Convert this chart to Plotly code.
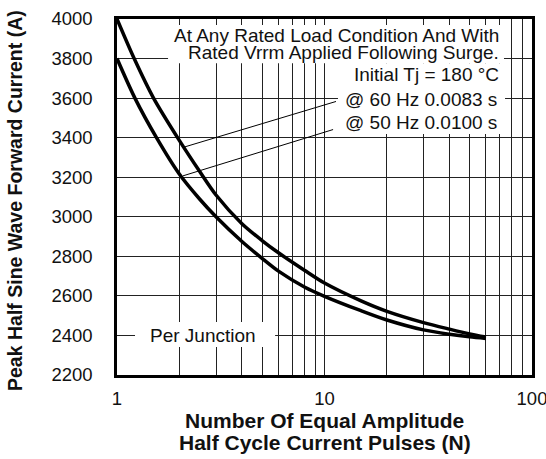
import plotly.graph_objects as go

# ---- data ----
pulses_60hz = [1, 1.21, 1.5, 2, 2.5, 3, 4, 5, 6, 8, 10, 15, 20, 30, 40, 50, 60]
current_60hz = [4000, 3800, 3600, 3385, 3230, 3110, 2965, 2880, 2818, 2730, 2665, 2575, 2522,
                2465, 2432, 2408, 2392]

pulses_50hz = [1, 1.22, 1.55, 2, 2.5, 3, 4, 5, 6, 8, 10, 15, 20, 30, 40, 50, 60]
current_50hz = [3800, 3600, 3400, 3215, 3090, 3000, 2875, 2790, 2725, 2645, 2598, 2525, 2478,
                2428, 2406, 2393, 2385]

callout_60_x = [2.1, 11.36]
callout_60_y = [3352, 3583]
callout_50_x = [2.08, 11.0]
callout_50_y = [3207, 3441]

x_tick_vals = [1, 10, 100]
x_tick_text = ["1", "10", "100"]
x_minor_vals = [2, 3, 4, 5, 6, 7, 8, 9, 20, 30, 40, 50, 60, 70, 80, 90]

x_title_lines = ["Number Of Equal Amplitude", "Half Cycle Current Pulses (N)"]
y_title = "Peak Half Sine Wave Forward Current (A)"

FONT = "Liberation Sans, Arial, Helvetica, sans-serif"
GRID = "#222222"
TXT = "#111111"

fig = go.Figure()

curve_line = dict(color="black", width=3.5, shape="spline", smoothing=0.8)
fig.add_trace(go.Scatter(x=pulses_60hz, y=current_60hz, mode="lines", line=curve_line,
                         hoverinfo="skip", showlegend=False))
fig.add_trace(go.Scatter(x=pulses_50hz, y=current_50hz, mode="lines", line=curve_line,
                         hoverinfo="skip", showlegend=False))
fig.add_trace(go.Scatter(x=callout_60_x, y=callout_60_y, mode="lines",
                         line=dict(color="black", width=1), hoverinfo="skip", showlegend=False))
fig.add_trace(go.Scatter(x=callout_50_x, y=callout_50_y, mode="lines",
                         line=dict(color="black", width=1), hoverinfo="skip", showlegend=False))

# white backing boxes behind the notes
boxes = [
    (0.123, 0.9325, 0.876, 0.983),
    (0.5325, 0.935, 0.677, 0.876),
    (0.0434, 0.381, 0.0787, 0.149),
]
for x0, x1, y0, y1 in boxes:
    fig.add_shape(type="rect", xref="paper", yref="paper", x0=x0, x1=x1, y0=y0, y1=y1,
                  fillcolor="white", line=dict(width=0), layer="above")

notes = [
    ("At Any Rated Load Condition And With", 0.922, 0.955, "right"),
    ("Rated Vrrm Applied Following Surge.", 0.922, 0.9045, "right"),
    ("Initial Tj = 180 °C", 0.922, 0.843, "right"),
    ("@ 60 Hz 0.0083 s", 0.546, 0.7725, "left"),
    ("@ 50 Hz 0.0100 s", 0.546, 0.708, "left"),
    ("Per Junction", 0.207, 0.110, "center"),
]
for text, x, y, anchor in notes:
    fig.add_annotation(text=text, xref="paper", yref="paper", x=x, y=y,
                       xanchor=anchor, yanchor="middle", showarrow=False, borderpad=0,
                       font=dict(family=FONT, size=19, color=TXT))

# x-axis title, two lines set with the reference's tight line spacing
for text, y in zip(x_title_lines, [-0.129, -0.191]):
    fig.add_annotation(text=f"<b>{text}</b>", xref="paper", yref="paper", x=0.5, y=y,
                       xanchor="center", yanchor="middle", showarrow=False, borderpad=0,
                       font=dict(family=FONT, size=21, color=TXT))

# y-axis title
fig.add_annotation(text=f"<b>{y_title}</b>", xref="paper", yref="paper", x=-0.2458, y=0.4916,
                   xanchor="center", yanchor="middle", textangle=-90, showarrow=False,
                   borderpad=0, font=dict(family=FONT, size=19.5, color=TXT))

fig.update_xaxes(
    type="log", range=[0, 2],
    tickmode="array", tickvals=x_tick_vals, ticktext=x_tick_text,
    showgrid=True, gridcolor=GRID, gridwidth=1,
    minor=dict(tickmode="array", tickvals=x_minor_vals, showgrid=True,
               gridcolor=GRID, gridwidth=1, ticks=""),
    ticks="", ticklabelstandoff=5, ticklabeloverflow="allow",
    showline=True, mirror=True, linecolor="black", linewidth=2.5,
    tickfont=dict(family=FONT, size=18.5, color=TXT),
    zeroline=False, automargin=False,
)
fig.update_yaxes(
    range=[2200, 4000], tick0=2200, dtick=200,
    showgrid=True, gridcolor=GRID, gridwidth=1,
    ticks="", ticklabelstandoff=18,
    showline=True, mirror=True, linecolor="black", linewidth=2.5,
    tickfont=dict(family=FONT, size=18.5, color=TXT),
    zeroline=False, automargin=False,
)

fig.update_layout(
    width=546, height=459,
    margin=dict(l=117, r=14, t=19, b=84, pad=0),
    paper_bgcolor="white", plot_bgcolor="white",
    showlegend=False,
)

fig.write_html("out.html", config={"displayModeBar": False},
               post_script="document.body.style.margin='0';document.body.style.overflow='hidden';")
